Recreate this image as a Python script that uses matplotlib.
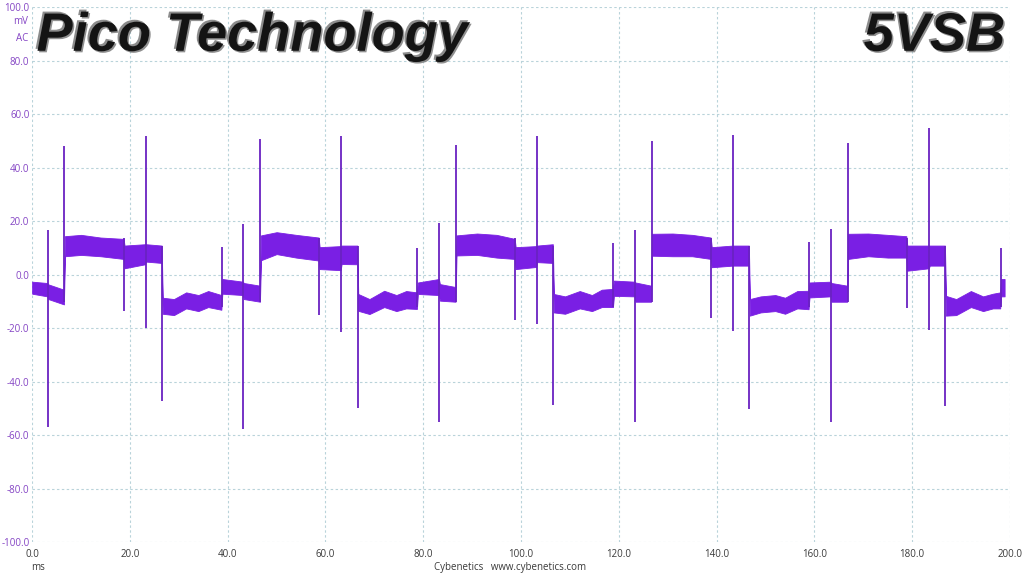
import matplotlib
matplotlib.use("Agg")
import matplotlib.pyplot as plt
import matplotlib.patheffects as pe

# ---------------- data ----------------
# ripple band envelope: time (ms), upper edge (mV), lower edge (mV)
band_t = [0.0, 3.1, 3.3, 6.5, 6.7, 10.0, 14.0, 18.7, 18.9, 23.1, 23.3, 26.5,
          26.7, 29.0, 31.5, 34.0, 36.0, 38.7, 38.9, 43.1,
          43.3, 46.6, 46.8, 50.0, 54.0, 58.6, 58.8, 63.1, 63.3, 66.5,
          66.7, 69.0, 72.0, 74.5, 76.5, 78.7, 78.9, 83.2,
          83.4, 86.6, 86.8, 91.0, 95.0, 98.7, 98.9, 103.1, 103.3, 106.5,
          106.7, 109.0, 112.0, 114.5, 116.5, 118.8, 119.0, 123.2,
          123.4, 126.6, 126.8, 131.0, 135.0, 138.8, 139.0, 143.3, 143.5, 146.6,
          146.8, 149.0, 152.0, 154.0, 156.5, 158.8, 159.0, 163.3,
          163.5, 166.7, 166.9, 171.0, 175.0, 178.8, 179.0, 183.4, 183.6, 186.7,
          186.9, 189.0, 192.0, 194.5, 196.5, 198.0, 198.2, 198.9]
band_hi = [-2.5, -3.0, -3.5, -5.5, 14.5, 15.0, 14.0, 13.5, 11.0, 11.5, 11.5, 11.0,
           -8.5, -9.0, -6.5, -7.5, -6.0, -7.5, -1.5, -2.5,
           -3.0, -4.0, 14.8, 16.0, 15.0, 14.0, 10.4, 10.8, 11.0, 11.0,
           -7.1, -9.0, -5.9, -7.5, -6.0, -6.5, -2.8, -1.5,
           -3.4, -4.5, 14.8, 15.5, 15.0, 13.5, 10.4, 10.8, 11.0, 11.5,
           -7.1, -8.0, -6.0, -7.5, -5.5, -5.2, -2.1, -2.5,
           -2.8, -4.0, 15.4, 15.5, 15.0, 14.0, 10.4, 11.0, 11.0, 11.0,
           -9.0, -8.0, -7.5, -8.5, -6.0, -5.9, -2.8, -2.5,
           -3.0, -4.0, 15.4, 15.5, 15.0, 14.5, 11.0, 11.0, 11.0, 11.0,
           -7.8, -9.0, -6.0, -8.0, -7.0, -6.5, -1.5, -1.5]
band_lo = [-7.0, -8.0, -9.0, -11.0, 7.0, 7.5, 7.0, 6.0, 2.5, 4.0, 5.0, 4.5,
           -14.5, -15.0, -12.5, -13.5, -12.0, -13.0, -7.0, -7.5,
           -9.0, -10.0, 5.5, 7.8, 6.5, 5.4, 2.2, 1.8, 4.1, 4.0,
           -13.4, -14.6, -12.0, -13.5, -12.5, -12.7, -7.1, -7.5,
           -9.6, -10.0, 7.3, 7.5, 6.5, 6.0, 2.2, 3.0, 4.8, 4.5,
           -14.0, -14.5, -12.5, -13.5, -12.0, -12.0, -7.8, -8.0,
           -10.0, -10.0, 7.2, 7.0, 7.0, 6.0, 2.9, 3.5, 3.5, 3.5,
           -15.2, -14.0, -13.5, -14.5, -12.5, -12.8, -8.4, -8.0,
           -10.0, -10.0, 6.0, 7.0, 6.5, 6.5, 1.6, 2.5, 3.5, 3.5,
           -15.2, -15.0, -12.0, -13.5, -12.5, -12.5, -8.0, -8.0]

# switching spikes: time (ms), lowest and highest excursion (mV)
spike_t = [3.2, 6.6, 18.8, 23.2, 26.6, 38.8,
           43.2, 46.7, 58.7, 63.2, 66.6, 78.8,
           83.3, 86.7, 98.8, 103.2, 106.6, 118.9,
           123.3, 126.7, 138.9, 143.4, 146.7, 158.9,
           163.4, 166.8, 178.9, 183.5, 186.8, 198.1]
spike_lo = [-57.0, -10.0, -13.6, -19.7, -47.0, -12.0,
            -57.5, -10.0, -15.0, -21.5, -49.6, -12.0,
            -55.0, -10.0, -17.0, -18.4, -48.6, -12.0,
            -55.0, -10.0, -15.9, -21.0, -50.0, -12.0,
            -55.0, -10.0, -12.5, -20.5, -49.0, -12.0]
spike_hi = [17.0, 48.4, 14.0, 52.0, 11.0, 10.5,
            19.0, 50.8, 14.0, 52.0, 11.0, 10.0,
            19.4, 48.5, 14.0, 52.0, 11.0, 12.0,
            17.0, 50.0, 14.0, 52.5, 11.0, 12.3,
            17.2, 49.4, 14.0, 55.0, 11.0, 10.1]

x_ticks = [0, 20, 40, 60, 80, 100, 120, 140, 160, 180, 200]
x_labels = ["0.0", "20.0", "40.0", "60.0", "80.0", "100.0", "120.0",
            "140.0", "160.0", "180.0", "200.0"]
y_ticks = [100, 80, 60, 40, 20, 0, -20, -40, -60, -80, -100]
y_labels = ["100.0", "80.0", "60.0", "40.0", "20.0", "0.0", "-20.0",
            "-40.0", "-60.0", "-80.0", "-100.0"]

title_left = "Pico Technology"
title_right = "5VSB"
footer = "Cybenetics   www.cybenetics.com"

# ---------------- drawing ----------------
BAND = "#7a1fe4"
SPIKE = "#6a22c2"
PURPLE = "#8444c4"
GRID = "#b9d3da"

fig = plt.figure(figsize=(10.24, 5.76), dpi=100)
ax = fig.add_axes([0.0314, 0.0582, 0.9549, 0.9288])

ax.fill_between(band_t, band_lo, band_hi, color=BAND, linewidth=0.6,
                edgecolor=BAND, zorder=3)
ax.vlines(spike_t, spike_lo, spike_hi, color=SPIKE, linewidth=1.3, zorder=4)

ax.set_xlim(0, 200)
ax.set_ylim(-100, 100)
ax.set_xticks(x_ticks)
ax.set_xticklabels(x_labels)
ax.set_yticks(y_ticks)
ax.set_yticklabels(y_labels)
ax.tick_params(axis="both", length=0, labelsize=7)
ax.tick_params(axis="x", pad=5, labelcolor="#3a3a3a")
ax.tick_params(axis="y", pad=2, labelcolor=PURPLE)
for lab in ax.get_xticklabels() + ax.get_yticklabels():
    lab.set_family("Open Sans")

for s in ax.spines.values():
    s.set_visible(False)
ax.grid(True, color=GRID, linestyle=(0, (2.2, 2.2)), linewidth=0.8, zorder=0)
ax.set_axisbelow(True)

# unit labels under the top tick
fig.text(0.0275, 0.962, "mV", ha="right", va="center", fontsize=7,
         color=PURPLE, family="Open Sans")
fig.text(0.0275, 0.934, "AC", ha="right", va="center", fontsize=7,
         color=PURPLE, family="Open Sans")

# bottom texts
fig.text(0.037, 0.014, "ms", ha="center", va="center", fontsize=7,
         color="#3a3a3a", family="Open Sans")
fig.text(0.498, 0.014, footer, ha="center", va="center", fontsize=7,
         color="#3a3a3a", family="Open Sans")

# metallic-looking headline texts (single text each, layered path effects)
effects = [
    pe.PathPatchEffect(offset=(1.6, -1.6), facecolor="#7d7d7d", edgecolor="none", alpha=0.85),
    pe.PathPatchEffect(offset=(-0.9, 0.9), facecolor="#8c8c8c", edgecolor="none"),
    pe.PathPatchEffect(offset=(0.5, -0.5), facecolor="#141414", edgecolor="none"),
]
for txt, xpos, ha in [(title_left, 0.035, "left"), (title_right, 0.981, "right")]:
    fig.text(xpos, 0.913, txt, ha=ha, va="baseline", fontsize=39,
             fontweight="bold", fontstyle="italic", family="Liberation Sans",
             color="#141414", path_effects=effects, zorder=10)

fig.savefig("out.png", dpi=100)
